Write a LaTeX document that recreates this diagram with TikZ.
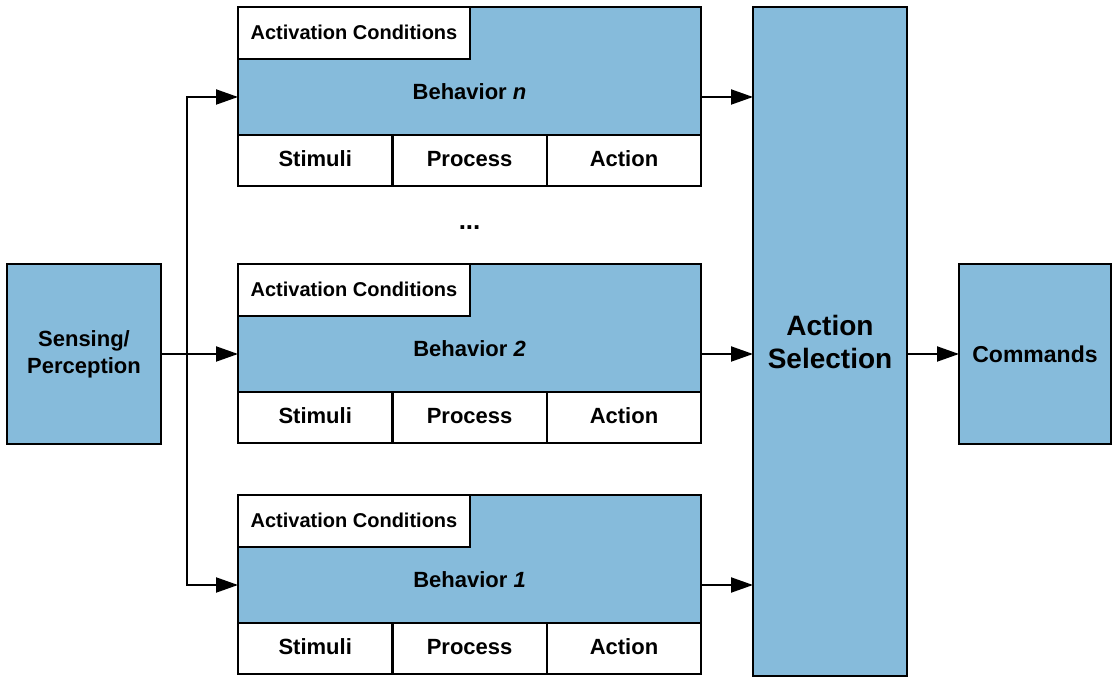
\documentclass[tikz,border=0pt]{standalone}
\usepackage{fontspec}
\setmainfont{Liberation Sans}
\usetikzlibrary{arrows.meta, positioning}
\definecolor{behblue}{RGB}{134,187,219}

\begin{document}
\begin{tikzpicture}[
        font=\bfseries\fontsize{11}{13.5}\selectfont,
        bluebox/.style ={rectangle, draw=black, fill=behblue, line width=1.2pt,
                         outer sep=0pt, align=center},
        whitebox/.style={rectangle, draw=black, fill=white, line width=1.2pt,
                         outer sep=0pt, align=center},
        behav/.style   ={bluebox, minimum width=231.5pt, minimum height=64pt},
        cond/.style    ={whitebox, minimum width=116pt, minimum height=26pt, anchor=north west,
                         text height=1.6ex, text depth=0.4ex,
                         font=\bfseries\fontsize{10}{12}\selectfont},
        cell/.style    ={whitebox, minimum width=77.2pt, minimum height=25.5pt, anchor=north west,
                         text height=1.6ex, text depth=0.5ex},
        arrow/.style   ={-{Triangle[length=11pt, width=7.5pt]}, line width=1pt}
    ]
    \useasboundingbox (-42pt,-162.5pt) rectangle (514.5pt,177pt);

    \node[bluebox, minimum width=77pt, minimum height=90pt] (sense) {Sensing/\\Perception};
    \node[behav, right=38.5pt of sense.north east, anchor=north west] (beh2) {};
    \node[behav, above=64.5pt of beh2] (behn) {};
    \node[behav, below=51.5pt of beh2] (beh1) {};

    % parts of each behavior
    \foreach \b/\k in {behn/n, beh2/2, beh1/1} {
        \node[cond] (cond\k) at (\b.north west) {Activation Conditions};
        \node (name\k) at ([yshift=-10.5pt]\b.center) {Behavior \textit{\k}};
        \node[cell] (stim\k) at (\b.south west)       {Stimuli};
        \node[cell] (proc\k) at (stim\k.north east)   {Process};
        \node[cell] (act\k)  at (proc\k.north east)   {Action};
        \coordinate (in\k)  at ([yshift=-13pt]\b.west);
        \coordinate (out\k) at ([yshift=-13pt]\b.east);
    }
    \node[anchor=base, font=\bfseries\fontsize{13}{15}\selectfont] (dots) at ([yshift=-22pt]procn.south) {...};

    \node[bluebox, minimum width=77pt, minimum height=334.5pt,
          font=\bfseries\fontsize{14}{16.5}\selectfont,
          right=26pt of behn.north east, anchor=north west] (sel) {Action\\Selection};
    \coordinate (selout) at (sel.east |- sense);
    \node[bluebox, minimum width=76pt, minimum height=90pt, right=26pt of selout,
          font=\bfseries\fontsize{11.5}{13.5}\selectfont] (cmd) {Commands};

    \draw[arrow] (sense.east) -- ++(13pt,0) |- (inn);
    \draw[arrow] (sense.east) -- (in2);
    \draw[arrow] (sense.east) -- ++(13pt,0) |- (in1);
    \draw[arrow] (outn) -- (outn -| sel.west);
    \draw[arrow] (out2) -- (out2 -| sel.west);
    \draw[arrow] (out1) -- (out1 -| sel.west);
    \draw[arrow] (sel.east |- cmd.west) -- (cmd.west);
\end{tikzpicture}
\end{document}
